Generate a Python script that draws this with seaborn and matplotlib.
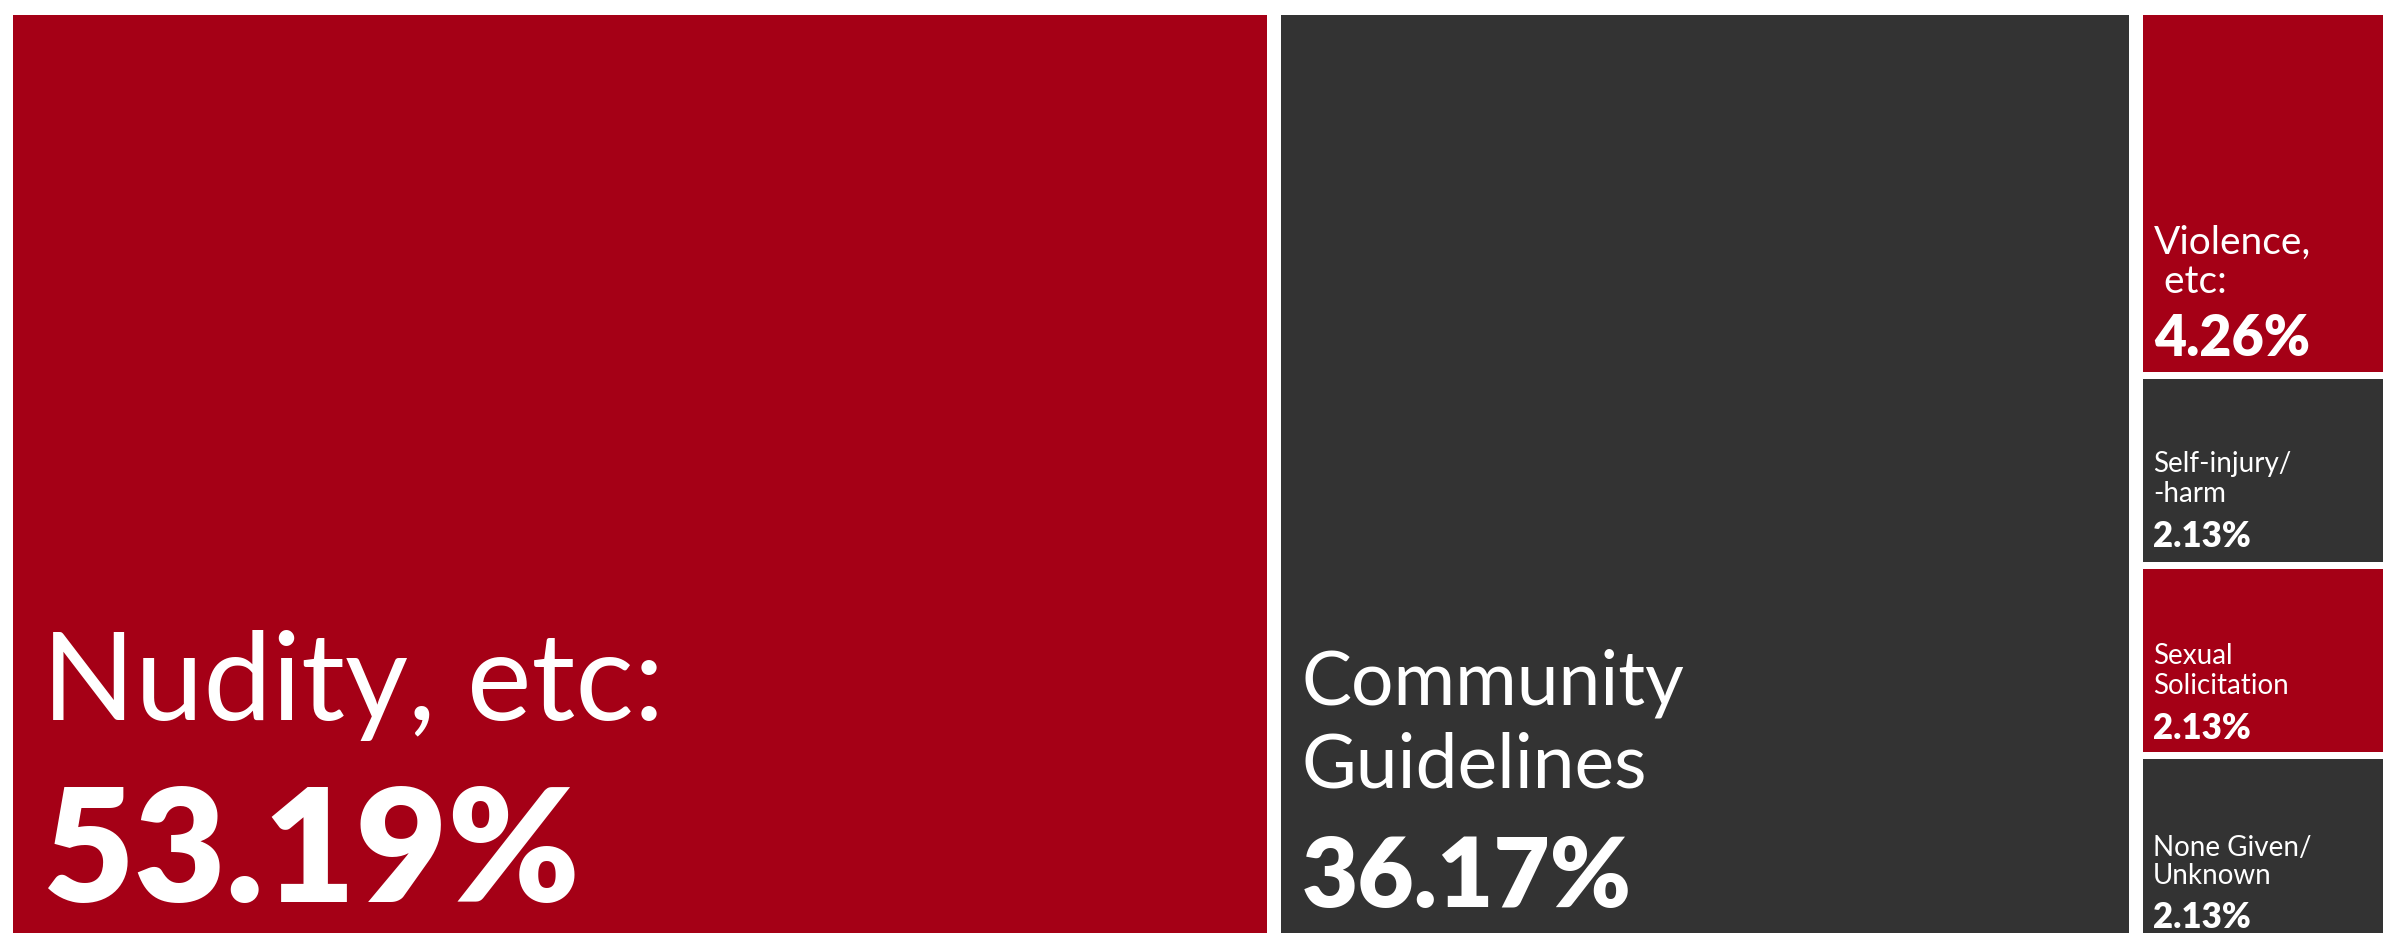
import matplotlib
matplotlib.use("Agg")
import matplotlib.pyplot as plt
import seaborn as sns

# Share of removals by stated reason, in percent
reasons = ["Nudity, etc:", "Community\nGuidelines", "Violence,\n etc:",
           "Self-injury/\n-harm", "Sexual\nSolicitation", "None Given/\nUnknown"]
shares = [53.19, 36.17, 4.26, 2.13, 2.13, 2.13]
# treemap column that each reason is stacked into
column_of = [0, 1, 2, 2, 2, 2]

RED = "#A50016"
DARK = "#333333"
tile_colors = [RED, DARK, RED, DARK, RED, DARK]

# text styling per tile: left pad (px), name size, percent size,
# baseline offsets (px above tile bottom) for name lines and percent
text_style = [
    dict(pad=30, name_size=88, pct_size=114, name_dy=[222], pct_dy=40),
    dict(pad=21, name_size=54, pct_size=70, name_dy=[238, 155], pct_dy=35),
    dict(pad=11, name_size=28, pct_size=40, name_dy=[118, 79], pct_dy=16),
    dict(pad=10, name_size=20, pct_size=25, name_dy=[90, 60], pct_dy=15),
    dict(pad=10, name_size=20, pct_size=25, name_dy=[88, 58], pct_dy=13),
    dict(pad=10, name_size=20, pct_size=25, name_dy=[86, 58], pct_dy=14),
]

sns.set_theme(style="white")
plt.rcParams["font.family"] = ["Lato", "DejaVu Sans"]

W, H = 2396, 933
fig = plt.figure(figsize=(W / 100, H / 100), dpi=100)
fig.patch.set_facecolor("white")
ax = fig.add_axes([5.5 / W, 0, 2384 / W, 918 / H])
ax.set_facecolor("white")

# column widths follow the summed shares of the reasons in each column
n_cols = max(column_of) + 1
col_total = [sum(s for s, c in zip(shares, column_of) if c == k) for k in range(n_cols)]
col_x0 = [sum(col_total[:k]) for k in range(n_cols)]

gap_x = 7 / (2384 / 100)   # half gap between tiles, data units
gap_y = 3.5 / 950

tiles = []
stack = [0.0] * n_cols
for share, col in zip(shares, column_of):
    x0 = col_x0[col]
    w = col_total[col]
    y0 = stack[col]
    h = share / col_total[col]
    stack[col] += h
    tiles.append((x0, y0, w, h))

for (x0, y0, w, h), color in zip(tiles, tile_colors):
    ax.bar(x0 + gap_x, h - 2 * gap_y, width=w - 2 * gap_x, bottom=y0 + gap_y,
           align="edge", color=color, linewidth=0)

for (x0, y0, w, h), name, share, st in zip(tiles, reasons, shares, text_style):
    corner = (x0 + gap_x, y0 + h - gap_y)
    for line, dy in zip(name.split("\n"), st["name_dy"]):
        ax.annotate(line, xy=corner, xycoords="data", xytext=(st["pad"], dy),
                    textcoords="offset pixels", ha="left", va="baseline",
                    color="white", fontsize=st["name_size"], fontweight="normal",
                    annotation_clip=False)
    ax.annotate(f"{share:.2f}%", xy=corner, xycoords="data",
                xytext=(st["pad"], st["pct_dy"]), textcoords="offset pixels",
                ha="left", va="baseline", color="white",
                fontsize=st["pct_size"], fontweight="heavy", annotation_clip=False)

ax.set_xlim(0, 100)
ax.set_ylim(0.98684, 0.02053)
ax.set_axis_off()

fig.savefig("out.png", dpi=100, facecolor="white")
